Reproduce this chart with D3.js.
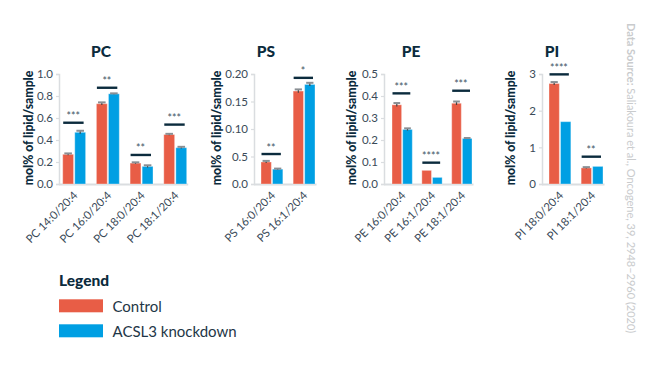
<!DOCTYPE html>
<html><head><meta charset="utf-8">
<script src="https://cdn.jsdelivr.net/npm/d3@7"></script>
<style>
html,body{margin:0;padding:0;background:#fff;}
svg{display:block;font-family:Lato,"Open Sans",sans-serif;}
</style></head>
<body><svg id="c" width="645" height="373"></svg>
<script>
// ---- data ----
const seriesNames = ["Control", "ACSL3 knockdown"];
const seriesColors = ["#E85D46", "#009FE3"];

const pcCategories = ["PC 14:0/20:4", "PC 16:0/20:4", "PC 18:0/20:4", "PC 18:1/20:4"];
const pcControl = [0.27, 0.73, 0.19, 0.45];
const pcKnockdown = [0.47, 0.82, 0.16, 0.33];
const pcControlErr = [0.008, 0.012, 0.007, 0.006];
const pcKnockdownErr = [0.014, 0.004, 0.010, 0.008];
const pcSig = [0.557, 0.875, 0.264, 0.54];
const pcStars = ["***", "**", "**", "***"];
const pcTicks = [0, 0.2, 0.4, 0.6, 0.8, 1.0];
const pcTickLabels = ["0.0", "0.2", "0.4", "0.6", "0.8", "1.0"];

const psCategories = ["PS 16:0/20:4", "PS 16:1/20:4"];
const psControl = [0.040, 0.169];
const psKnockdown = [0.027, 0.181];
const psControlErr = [0.002, 0.003];
const psKnockdownErr = [0.001, 0.003];
const psSig = [0.0545, 0.193];
const psStars = ["**", "*"];
const psTicks = [0, 0.05, 0.10, 0.15, 0.20];
const psTickLabels = ["0.0", "0.5", "0.10", "0.15", "0.20"];

const peCategories = ["PE 16:0/20:4", "PE 16:1/20:4", "PE 18:1/20:4"];
const peControl = [0.36, 0.062, 0.367];
const peKnockdown = [0.248, 0.030, 0.207];
const peControlErr = [0.008, 0, 0.008];
const peKnockdownErr = [0.005, 0, 0.002];
const peSig = [0.412, 0.097, 0.424];
const peStars = ["***", "****", "***"];
const peTicks = [0, 0.1, 0.2, 0.3, 0.4, 0.5];
const peTickLabels = ["0.0", "0.1", "0.2", "0.3", "0.4", "0.5"];

const piCategories = ["PI 18:0/20:4", "PI 18:1/20:4"];
const piControl = [2.74, 0.44];
const piKnockdown = [1.70, 0.48];
const piControlErr = [0.04, 0.02];
const piKnockdownErr = [0, 0];
const piSig = [2.99, 0.745];
const piStars = ["****", "**"];
const piTicks = [0, 1, 2, 3];
const piTickLabels = ["0", "1", "2", "3"];

const yLabel = "mol% of lipid/sample";
const sourceBold = "Data Source:";
const sourceText = " Saliakoura et al., Oncogene, 39, 2948\u20132960 (2020)";

// ---- layout ----
const panels = [
  {title:"PC", cats:pcCategories, ctrl:pcControl, ko:pcKnockdown, ce:pcControlErr, ke:pcKnockdownErr, sig:pcSig, stars:pcStars, ticks:pcTicks, tl:pcTickLabels, max:1.0,
   axisX:59, range:[62.7,186.7], labelX:28, titleX:101},
  {title:"PS", cats:psCategories, ctrl:psControl, ko:psKnockdown, ce:psControlErr, ke:psKnockdownErr, sig:psSig, stars:psStars, ticks:psTicks, tl:psTickLabels, max:0.20,
   axisX:254, range:[261,315], labelX:216.5, titleX:266},
  {title:"PE", cats:peCategories, ctrl:peControl, ko:peKnockdown, ce:peControlErr, ke:peKnockdownErr, sig:peSig, stars:peStars, ticks:peTicks, tl:peTickLabels, max:0.5,
   axisX:384, range:[392,472], labelX:351.5, titleX:411},
  {title:"PI", cats:piCategories, ctrl:piControl, ko:piKnockdown, ce:piControlErr, ke:piKnockdownErr, sig:piSig, stars:piStars, ticks:piTicks, tl:piTickLabels, max:3,
   axisX:542, range:[549,603], labelX:510, titleX:552}
];
const yTop = 74, yBot = 184;
const navy = "#0B2B3D", axisCol = "#DADDE0", tickText = "#3A4A58";

const svg = d3.select("#c");

panels.forEach(p => {
  const g = svg.append("g");
  const y = d3.scaleLinear().domain([0, p.max]).range([yBot, yTop]);
  const x0 = d3.scaleBand().domain(p.cats).range(p.range).paddingInner(0.32).paddingOuter(0);
  const x1 = d3.scaleBand().domain(seriesNames).range([0, x0.bandwidth()]).paddingInner(0.1);

  // title
  g.append("text").attr("x", p.titleX).attr("y", 56.5).attr("text-anchor","middle")
    .attr("font-size", 15.5).attr("font-weight", 900).attr("fill", navy).text(p.title);

  // y axis
  const yAxis = d3.axisLeft(y).tickValues(p.ticks).tickSize(3).tickPadding(3)
    .tickFormat((d,i) => p.tl[i]);
  const ya = g.append("g").attr("transform", `translate(${p.axisX},0)`).call(yAxis);
  ya.select(".domain").attr("stroke", axisCol).attr("stroke-width", 1.5);
  ya.selectAll(".tick line").attr("stroke", axisCol).attr("stroke-width", 1.2);
  ya.selectAll(".tick text").attr("fill", tickText).attr("font-size", 11.5).attr("font-family","Lato, sans-serif");

  // y label
  g.append("text").attr("transform", `translate(${p.labelX},${(yTop+yBot)/2 - 1})) rotate(-90)`.replace("))", ")"))
    .attr("text-anchor","middle").attr("dominant-baseline","central")
    .attr("font-size", 12.2).attr("font-weight", 900).attr("fill", navy).text(yLabel);

  // x axis
  const xAxis = d3.axisBottom(x0).tickSize(0).tickPadding(0);
  const xa = g.append("g").attr("transform", `translate(0,${yBot})`).call(xAxis);
  xa.select(".domain").remove();
  g.append("line").attr("x1", p.axisX).attr("x2", p.range[1] + 1.5)
    .attr("y1", yBot + 0.5).attr("y2", yBot + 0.5).attr("stroke", axisCol).attr("stroke-width", 2);
  xa.selectAll(".tick text").attr("fill", tickText).attr("font-size", 11.3).attr("font-family","Lato, sans-serif")
    .attr("text-anchor","end").attr("dy", null).attr("dominant-baseline","central")
    .attr("transform", "translate(1,9) rotate(-45)");

  // bars
  p.cats.forEach((c, i) => {
    const vals = [p.ctrl[i], p.ko[i]];
    const errs = [p.ce[i], p.ke[i]];
    const gx = x0(c);
    seriesNames.forEach((s, j) => {
      const bx = gx + x1(s), bw = x1.bandwidth();
      g.append("rect").attr("x", bx).attr("y", y(vals[j])).attr("width", bw)
        .attr("height", yBot - y(vals[j])).attr("fill", seriesColors[j])
        .attr("stroke", "#ffffff").attr("stroke-opacity", 0.35).attr("stroke-width", 1);
      if (errs[j] > 0) {
        const cx = bx + bw/2;
        g.append("line").attr("x1", cx).attr("x2", cx)
          .attr("y1", y(vals[j] - errs[j])).attr("y2", y(vals[j] + errs[j]))
          .attr("stroke", "#444").attr("stroke-width", 1.2);
        g.append("line").attr("x1", cx - bw*0.35).attr("x2", cx + bw*0.35)
          .attr("y1", y(vals[j] + errs[j])).attr("y2", y(vals[j] + errs[j]))
          .attr("stroke", "#8a8f94").attr("stroke-width", 2);
      }
    });
    // significance
    const sy = y(p.sig[i]);
    g.append("line").attr("x1", gx + 0.5).attr("x2", gx + x0.bandwidth() - 2)
      .attr("y1", sy).attr("y2", sy).attr("stroke", navy).attr("stroke-width", 2.4);
    g.append("text").attr("x", gx + x0.bandwidth()/2 - 1).attr("y", sy - 2.5)
      .attr("text-anchor","middle").attr("font-size", 10.5).attr("fill", "#3E5566").text(p.stars[i]);
  });
});

// legend
const lg = svg.append("g");
lg.append("text").attr("x", 59).attr("y", 286).attr("font-size", 15.5).attr("font-weight", 900)
  .attr("fill", navy).text("Legend");
seriesNames.forEach((s, j) => {
  const yy = 299.3 + j * 25;
  lg.append("rect").attr("x", 59).attr("y", yy).attr("width", 44).attr("height", 13).attr("fill", seriesColors[j]);
  lg.append("text").attr("x", 112.5).attr("y", yy + 6.5).attr("dominant-baseline","central")
    .attr("font-size", 15).attr("fill", "#1E3646").text(s);
});

// source
const st = svg.append("text").attr("transform", "translate(632,23) rotate(90)")
  .attr("dominant-baseline","central").attr("font-size", 11).attr("fill", "#C9CBCD");
st.append("tspan").attr("font-weight", 700).text(sourceBold);
st.append("tspan").text(sourceText);
</script>
</body></html>
